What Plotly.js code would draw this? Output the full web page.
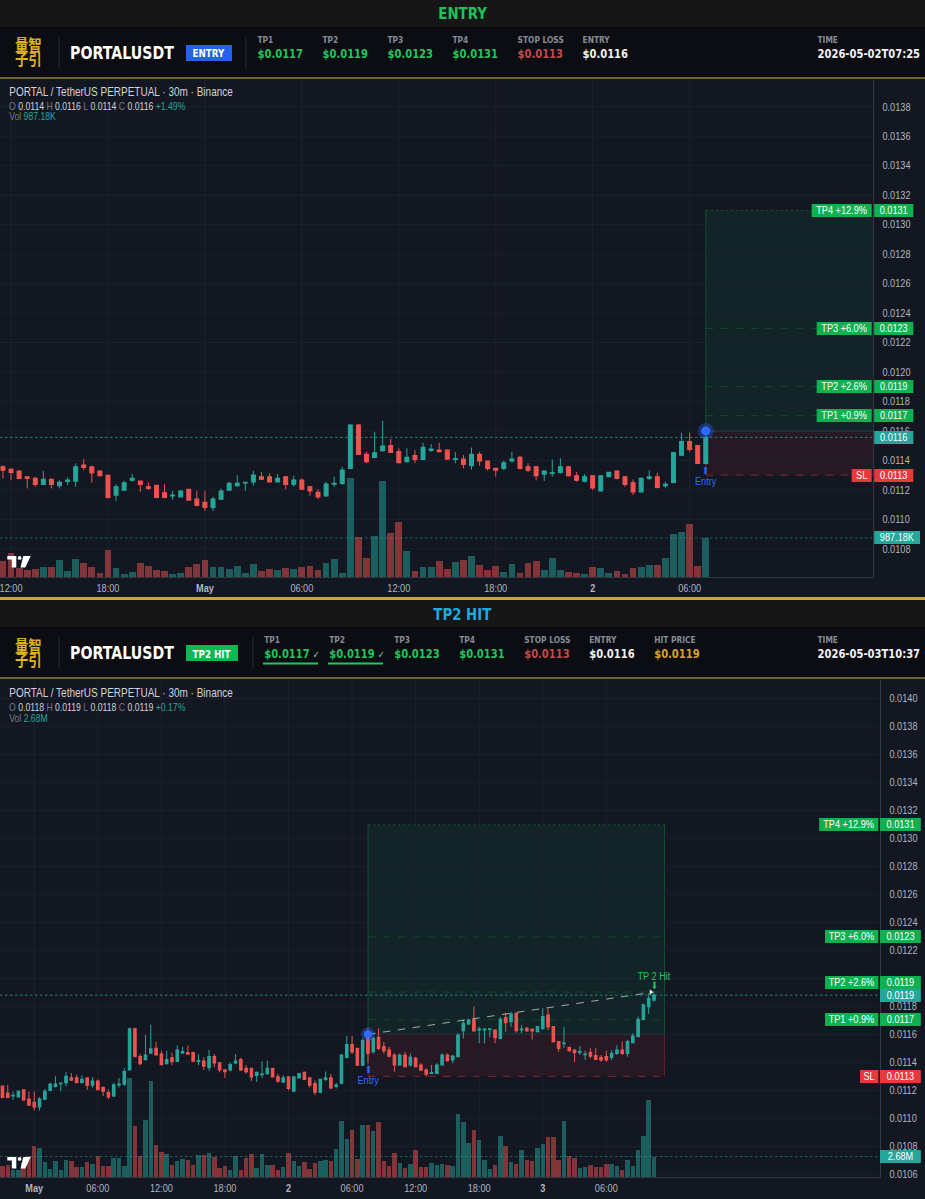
<!DOCTYPE html>
<html><head><meta charset="utf-8">
<script src="https://cdn.plot.ly/plotly-3.0.1.min.js"></script>
<style>html,body{margin:0;padding:0;background:#131722;}
#wrap{width:925px;height:1199px;overflow:hidden;}
#chart{width:1110px;height:1199px;transform:scaleX(0.833333);transform-origin:0 0;}</style>
</head><body><div id="wrap"><div id="chart"></div></div>
<script>
// ---------------- DATA ----------------
const firstBarTime = '2026-04-30T11:30:00Z'; // 30m bars
const opens = [0.011357,0.011339,0.011328,0.011289,0.011278,0.011237,0.011271,0.011228,0.011257,0.011260,
0.011368,0.011357,0.011328,0.011298,0.011165,0.011199,0.011266,0.011260,0.011221,0.011230,
0.011180,0.011160,0.011153,0.011203,0.011137,0.011115,0.011081,0.011137,0.011199,0.011228,
0.011248,0.011255,0.011289,0.011289,0.011255,0.011289,0.011237,0.011266,0.011221,0.011183,
0.011160,0.011239,0.011244,0.011346,0.011640,0.011441,0.011420,0.011466,0.011500,0.011459,
0.011391,0.011432,0.011407,0.011468,0.011470,0.011470,0.011407,0.011409,0.011364,0.011441,
0.011396,0.011346,0.011346,0.011396,0.011420,0.011357,0.011357,0.011307,0.011312,0.011319,
0.011357,0.011296,0.011260,0.011296,0.011194,0.011289,0.011328,0.011289,0.011248,0.011187,
0.011278,0.011289,0.011228,0.011251,0.011436,0.011527,0.011500,0.011380,0.011619,0.011476,
0.011578,0.011512,0.011488,0.011452,0.011381,0.011452,0.011381,0.011428,0.011381,0.011345,
0.011321,0.011321,0.011381,0.011452,0.011417,0.011440,0.011626,0.011674,0.011702,0.011631,
0.011631,0.011636,0.011631,0.011571,0.011719,0.011690,0.011750,0.011631,0.011643,0.011636,
0.011619,0.011643,0.011738,0.011655,0.011548,0.011534,0.011507,0.011488,0.011471,0.011455,
0.011469,0.011448,0.011433,0.011441,0.011436,0.011464,0.011488,0.011464,0.011541,0.011583,
0.011707,0.011798,0.011845];
const highs = [0.011368,0.011346,0.011334,0.011294,0.011289,0.011330,0.011278,0.011266,0.011285,0.011380,
0.011409,0.011362,0.011334,0.011305,0.011239,0.011262,0.011307,0.011264,0.011251,0.011235,
0.011239,0.011192,0.011199,0.011208,0.011192,0.011192,0.011153,0.011210,0.011255,0.011300,
0.011255,0.011330,0.011323,0.011312,0.011307,0.011294,0.011296,0.011278,0.011226,0.011205,
0.011255,0.011289,0.011357,0.011647,0.011647,0.011459,0.011595,0.011669,0.011545,0.011482,
0.011482,0.011470,0.011520,0.011511,0.011520,0.011475,0.011457,0.011436,0.011488,0.011459,
0.011400,0.011350,0.011398,0.011459,0.011432,0.011380,0.011362,0.011334,0.011407,0.011414,
0.011362,0.011319,0.011307,0.011300,0.011300,0.011323,0.011334,0.011294,0.011271,0.011285,
0.011334,0.011316,0.011255,0.011459,0.011588,0.011588,0.011504,0.011572,0.011643,0.011583,
0.011643,0.011547,0.011512,0.011464,0.011464,0.011476,0.011464,0.011440,0.011393,0.011357,
0.011381,0.011393,0.011464,0.011464,0.011452,0.011607,0.011702,0.011714,0.011798,0.011655,
0.011643,0.011643,0.011636,0.011726,0.011755,0.011762,0.011755,0.011667,0.011655,0.011643,
0.011660,0.011786,0.011786,0.011660,0.011552,0.011655,0.011512,0.011493,0.011517,0.011483,
0.011500,0.011500,0.011452,0.011483,0.011488,0.011524,0.011548,0.011560,0.011607,0.011726,
0.011821,0.011893,0.011893];
const lows = [0.011278,0.011266,0.011273,0.011210,0.011221,0.011233,0.011210,0.011210,0.011233,0.011221,
0.011334,0.011248,0.011294,0.011142,0.011124,0.011194,0.011255,0.011187,0.011199,0.011144,
0.011144,0.011131,0.011149,0.011126,0.011090,0.011056,0.011056,0.011131,0.011194,0.011221,
0.011194,0.011228,0.011266,0.011251,0.011251,0.011205,0.011221,0.011199,0.011160,0.011137,
0.011153,0.011221,0.011233,0.011341,0.011436,0.011380,0.011414,0.011459,0.011452,0.011384,
0.011384,0.011380,0.011402,0.011459,0.011454,0.011405,0.011380,0.011346,0.011339,0.011364,
0.011330,0.011289,0.011334,0.011386,0.011339,0.011319,0.011266,0.011260,0.011289,0.011312,
0.011291,0.011255,0.011251,0.011199,0.011187,0.011285,0.011273,0.011221,0.011165,0.011180,
0.011266,0.011210,0.011214,0.011244,0.011429,0.011459,0.011375,0.011373,0.011393,0.011464,
0.011488,0.011464,0.011435,0.011333,0.011376,0.011364,0.011369,0.011364,0.011340,0.011297,
0.011316,0.011316,0.011376,0.011405,0.011393,0.011435,0.011571,0.011667,0.011619,0.011536,
0.011536,0.011579,0.011536,0.011564,0.011619,0.011655,0.011612,0.011607,0.011619,0.011564,
0.011614,0.011631,0.011631,0.011541,0.011476,0.011500,0.011476,0.011405,0.011452,0.011417,
0.011429,0.011417,0.011405,0.011405,0.011417,0.011452,0.011452,0.011440,0.011536,0.011579,
0.011702,0.011745,0.011833];
const closes = [0.011334,0.011319,0.011278,0.011278,0.011237,0.011271,0.011237,0.011251,0.011266,0.011357,
0.011353,0.011316,0.011296,0.011149,0.011221,0.011248,0.011278,0.011237,0.011210,0.011149,
0.011149,0.011165,0.011192,0.011131,0.011094,0.011081,0.011137,0.011192,0.011244,0.011244,
0.011251,0.011300,0.011273,0.011255,0.011278,0.011237,0.011266,0.011205,0.011194,0.011153,
0.011239,0.011244,0.011334,0.011640,0.011441,0.011391,0.011452,0.011497,0.011454,0.011384,
0.011420,0.011407,0.011488,0.011477,0.011459,0.011409,0.011412,0.011373,0.011441,0.011396,
0.011346,0.011334,0.011384,0.011409,0.011346,0.011334,0.011296,0.011328,0.011316,0.011357,
0.011296,0.011266,0.011289,0.011214,0.011296,0.011319,0.011278,0.011237,0.011187,0.011278,
0.011289,0.011217,0.011237,0.011452,0.011527,0.011475,0.011380,0.011556,0.011464,0.011571,
0.011500,0.011483,0.011445,0.011381,0.011452,0.011369,0.011435,0.011369,0.011345,0.011316,
0.011326,0.011381,0.011452,0.011412,0.011445,0.011595,0.011679,0.011702,0.011624,0.011638,
0.011638,0.011640,0.011576,0.011707,0.011683,0.011745,0.011626,0.011638,0.011624,0.011624,
0.011655,0.011726,0.011655,0.011548,0.011500,0.011538,0.011483,0.011469,0.011476,0.011459,
0.011445,0.011421,0.011417,0.011417,0.011464,0.011488,0.011464,0.011548,0.011588,0.011707,
0.011810,0.011857,0.011881];
// volume (thousands), upper panel: bars 1..88
const volTopK = [405,615,236,177,194,253,261,422,152,447,
362,261,101,683,236,84,118,346,270,169,
143,76,93,253,320,430,253,253,211,270,
110,337,160,194,169,228,194,253,287,177,
354,464,110,2512,1012,472,1045,2428,1104,1399,
666,160,253,253,396,211,379,430,523,303,
177,287,135,337,101,354,413,185,489,177,
126,101,84,253,236,101,160,84,228,253,
303,303,489,1079,1138,1349,287,987.18];
// volume (thousands), lower panel: bars 20..143
const volBottomK = [1395,1526,959,872,1831,2790,4098,3793,1962,1090,
2049,959,2267,2093,1308,1264,1918,1744,2703,1395,
1395,2442,2529,1395,12949,6714,2703,7499,12513,4142,
3270,2965,1613,2093,2354,2267,1526,2834,2834,3139,
2616,1177,1395,959,2703,959,2485,3008,1177,3008,
1526,1613,959,1264,3183,2136,1395,1918,1090,1875,
2136,2180,2136,3662,7368,4970,6191,2354,6845,6802,
6060,7194,2136,1482,3139,1831,1177,1700,3575,1308,
1308,1831,1526,1657,1613,1395,8284,7150,4447,6191,
4796,2267,1046,1613,5319,4011,1918,1700,3488,2267,
2136,3793,4360,5232,5232,2180,7281,2790,2442,1177,
1264,1570,1308,1264,1744,1744,1482,872,2267,1395,
3575,5406,10028,2680];
const entryPrice = 0.0116;
const slPrice = 0.0113;
const tpPrices = [0.011704, 0.011902, 0.012296, 0.013096];
const tpNames = ['TP1','TP2','TP3','TP4'];
const tpPct = ['+0.9%','+2.6%','+6.0%','+12.9%'];
const tpText = ['0.0117','0.0119','0.0123','0.0131'];
const topPriceTicks = [0.0108,0.0110,0.0112,0.0114,0.0116,0.0118,0.0120,0.0122,0.0124,0.0126,0.0128,0.0130,0.0132,0.0134,0.0136,0.0138];
const botPriceTicks = [0.0106,0.0108,0.0110,0.0112,0.0114,0.0116,0.0118,0.0122,0.0124,0.0126,0.0128,0.0130,0.0132,0.0134,0.0136,0.0138,0.0140];
const botHiddenTick = 0.0120;
const topTickVals = ['2026-04-30 12:00','2026-04-30 18:00','2026-05-01 00:00','2026-05-01 06:00','2026-05-01 12:00','2026-05-01 18:00','2026-05-02 00:00','2026-05-02 06:00'];
const topTickText = ['12:00','18:00','<b>May</b>','06:00','12:00','18:00','<b>2</b>','06:00'];
const botTickVals = ['2026-05-01 00:00','2026-05-01 06:00','2026-05-01 12:00','2026-05-01 18:00','2026-05-02 00:00','2026-05-02 06:00','2026-05-02 12:00','2026-05-02 18:00','2026-05-03 00:00','2026-05-03 06:00'];
const botTickText = ['<b>May</b>','06:00','12:00','18:00','<b>2</b>','06:00','12:00','18:00','<b>3</b>','06:00'];
const hdrLabels = ['TP1','TP2','TP3','TP4','STOP LOSS','ENTRY','HIT PRICE'];
const hdrValues = ['$0.0117','$0.0119','$0.0123','$0.0131','$0.0113','$0.0116','$0.0119'];
const entryTimeTop = '2026-05-02 07:00';
const entryTimeBottom = '2026-05-02 07:30';
const boxEndBottom = '2026-05-03 11:30';
const hitTime = '2026-05-03 10:30';
const lastPriceTop = 0.011556, lastPriceBottom = 0.01188;
const lastVolTopK = 987.18, lastVolBottomK = 2680;

// ---------------- BUILD ----------------
const W = 925, H = 1199, SX = 1110 / 925;   // plot is drawn 1110 wide and squeezed to 925 by CSS
const X = px => px / W, Y = py => 1 - py / H;
const t0 = Date.parse(firstBarTime);
const times = opens.map((_, i) => new Date(t0 + i * 1800000).toISOString().slice(0, 16).replace('T', ' '));
const UP = '#26a69a', DN = '#ef5350';
const VUP = 'rgba(38,166,154,0.5)', VDN = 'rgba(239,83,80,0.5)';
const volColor = i => closes[i] >= opens[i] ? VUP : VDN;
const topIdx = [...Array(88).keys()];
const botIdx = [...Array(124).keys()].map(k => k + 19);
const pick = (arr, idx) => idx.map(i => arr[i]);

const candleStyle = {
  increasing: {line: {color: UP, width: 1.2}, fillcolor: UP},
  decreasing: {line: {color: DN, width: 1.2}, fillcolor: DN},
  hoverinfo: 'skip', showlegend: false
};
const traces = [
  {type: 'bar', x: pick(times, topIdx), y: volTopK, xaxis: 'x', yaxis: 'y', width: 1800000 * 0.84,
   marker: {color: topIdx.map(volColor), line: {width: 0}}, hoverinfo: 'skip', showlegend: false},
  Object.assign({type: 'candlestick', x: pick(times, topIdx), open: pick(opens, topIdx), high: pick(highs, topIdx),
   low: pick(lows, topIdx), close: pick(closes, topIdx), xaxis: 'x', yaxis: 'y2'}, candleStyle),
  {type: 'bar', x: pick(times, botIdx), y: volBottomK, xaxis: 'x2', yaxis: 'y3', width: 1800000 * 0.84,
   marker: {color: botIdx.map(volColor), line: {width: 0}}, hoverinfo: 'skip', showlegend: false},
  Object.assign({type: 'candlestick', x: pick(times, botIdx), open: pick(opens, botIdx), high: pick(highs, botIdx),
   low: pick(lows, botIdx), close: pick(closes, botIdx), xaxis: 'x2', yaxis: 'y4'}, candleStyle),
  {type: 'scatter', mode: 'lines', x: [entryTimeBottom, hitTime], y: [entryPrice, tpPrices[1]], xaxis: 'x2', yaxis: 'y4',
   line: {color: 'rgba(230,230,235,0.75)', width: 1, dash: 'dash'}, hoverinfo: 'skip', showlegend: false},
  {type: 'scatter', mode: 'markers', x: ['2026-05-03 10:12'], y: [tpPrices[1]], xaxis: 'x2', yaxis: 'y4',
   marker: {size: 5, symbol: 'triangle-right', color: '#ffffff', line: {width: 0}}, hoverinfo: 'skip', showlegend: false}
];

const GRID = '#1d2130', AXL = '#363a45', TICKC = '#b2b5be';
const LIB = 'Liberation Sans, Arial, sans-serif', DJ = 'DejaVu Sans, sans-serif';
const tickFont = {family: LIB, size: 11, color: TICKC};
const layout = {
  width: 1110, height: H, margin: {l: 0, r: 0, t: 0, b: 0},
  paper_bgcolor: '#131722', plot_bgcolor: '#131722', hovermode: false, showlegend: false, bargap: 0,
  xaxis: {domain: [0, X(873)], anchor: 'y', type: 'date', range: ['2026-04-30 11:19', '2026-05-02 17:21'],
    tickmode: 'array', tickvals: topTickVals, ticktext: topTickText, showgrid: true, gridcolor: GRID, gridwidth: 1.2,
    tickfont: tickFont, ticks: '', ticklabelstandoff: 1, ticklabeloverflow: 'allow',
    showline: true, linecolor: AXL, zeroline: false, rangeslider: {visible: false}, fixedrange: true, automargin: false},
  yaxis: {domain: [Y(577), Y(80)], anchor: 'x', range: [0, 12578], visible: false, fixedrange: true},
  yaxis2: {overlaying: 'y', anchor: 'x', side: 'right', range: [0.010609, 0.013981], tickmode: 'array', tickvals: topPriceTicks,
    tickformat: '.4f', showgrid: true, gridcolor: GRID, tickfont: tickFont, ticks: '', ticklabelstandoff: 8,
    showline: true, linecolor: AXL, linewidth: 1.2, zeroline: false, fixedrange: true, automargin: false},
  xaxis2: {domain: [0, X(880)], anchor: 'y3', type: 'date', range: ['2026-04-30 20:46', '2026-05-04 07:50'],
    tickmode: 'array', tickvals: botTickVals, ticktext: botTickText, showgrid: true, gridcolor: GRID, gridwidth: 1.2,
    tickfont: tickFont, ticks: '', ticklabelstandoff: 1, ticklabeloverflow: 'allow',
    showline: true, linecolor: AXL, zeroline: false, rangeslider: {visible: false}, fixedrange: true, automargin: false},
  yaxis3: {domain: [Y(1177), Y(680)], anchor: 'x2', range: [0, 64960], visible: false, fixedrange: true},
  yaxis4: {overlaying: 'y3', anchor: 'x2', side: 'right', range: [0.010581, 0.014131], tickmode: 'array', tickvals: botPriceTicks,
    tickformat: '.4f', showgrid: true, gridcolor: GRID, tickfont: tickFont, ticks: '', ticklabelstandoff: 8,
    showline: true, linecolor: AXL, linewidth: 1.2, zeroline: false, fixedrange: true, automargin: false},
  shapes: [], annotations: []
};
const S = layout.shapes, A = layout.annotations;
const rect = (x0, y0, x1, y1, fill, layer) => S.push({type: 'rect', xref: 'paper', yref: 'paper', x0: X(x0), x1: X(x1), y0: Y(y1), y1: Y(y0), fillcolor: fill, line: {width: 0}, layer: layer || 'below'});
const seg = (x0, y0, x1, y1, color, width, dash) => S.push({type: 'line', xref: 'paper', yref: 'paper', x0: X(x0), y0: Y(y0), x1: X(x1), y1: Y(y1), line: {color: color, width: width, dash: dash || 'solid'}});
const txt = (text, x, y, font, extra) => A.push(Object.assign({text: text, xref: 'paper', yref: 'paper', x: X(x), y: Y(y), showarrow: false, xanchor: 'left', yanchor: 'middle', borderpad: 0, font: font}, extra || {}));
const path = (pts, fill) => S.push({type: 'path', xref: 'paper', yref: 'paper', path: 'M' + pts.map(p => X(p[0]) + ',' + Y(p[1])).join(' L') + ' Z', fillcolor: fill, line: {width: 0}, layer: 'above'});

function header(y0, title, titleColor, badge, badgeColor, badgeW, divX, valXs, nVals, timeText, checks) {
  rect(0, y0, W, y0 + 27, '#161616');
  rect(0, y0 + 27, W, y0 + 77, '#0b0d13');
  rect(0, y0 + 77, W, y0 + 79, '#6f6233');
  txt('<b>' + title + '</b>', W / 2, y0 + 14, {family: DJ, size: 16, color: titleColor}, {xanchor: 'center'});
  txt('<b>量智</b>', 28, y0 + 44.5, {family: 'Noto Sans CJK SC', size: 16, color: '#e0b31a'}, {xanchor: 'center'});
  txt('<b>子引</b>', 28, y0 + 58.5, {family: 'Noto Sans CJK SC', size: 16, color: '#e0b31a'}, {xanchor: 'center'});
  seg(59, y0 + 37, 59, y0 + 69, '#262a33', 1.2);
  txt('<b>PORTALUSDT</b>', 69, y0 + 53, {family: DJ, size: 17, color: '#ffffff'});
  rect(186, y0 + 45, 186 + badgeW, y0 + 61, badgeColor, 'above');
  txt('<b>' + badge + '</b>', 186 + badgeW / 2, y0 + 53.5, {family: DJ, size: 10.5, color: '#ffffff'}, {xanchor: 'center'});
  seg(divX, y0 + 37, divX, y0 + 69, '#262a33', 1.2);
  const valColors = ['#22c55e', '#22c55e', '#22c55e', '#22c55e', '#c24b4b', '#f2f2f2', '#d9a520'];
  for (let i = 0; i < nVals; i++) {
    txt('<b>' + hdrLabels[i] + '</b>', valXs[i], y0 + 40, {family: DJ, size: 9, color: '#868b97'});
    let v = '<b>' + hdrValues[i] + '</b>';
    if (checks && i < checks) {
      v += ' <span style="font-size:10px;color:#8fcfa4">✓</span>';
      seg(valXs[i], y0 + 63.5, valXs[i] + 55, y0 + 63.5, '#22c55e', 2);
    }
    txt(v, valXs[i], y0 + 54, {family: DJ, size: 12, color: valColors[i]});
  }
  txt('<b>TIME</b>', 817, y0 + 40, {family: DJ, size: 9, color: '#868b97'});
  txt('<b>' + timeText + '</b>', 817, y0 + 54, {family: DJ, size: 12, color: '#f2f2f2'});
}
header(0, 'ENTRY', '#1ec25c', 'ENTRY', '#2563eb', 46, 246, [257, 322, 387, 452, 517, 582], 6, '2026-05-02T07:25', 0);
header(600, 'TP2 HIT', '#1fa9e3', 'TP2 HIT', '#10b652', 52, 253, [263, 328, 393, 458, 523, 588, 653], 7, '2026-05-03T10:37', 2);
rect(0, 597, W, 600, '#c9a44a', 'above');

function legend(y0, ohlc, pct, vol) {
  txt('PORTAL / TetherUS PERPETUAL · 30m · Binance', 8.5, y0, {family: LIB, size: 12, color: '#d1d4dc'});
  const g = s => '<span style="color:#787b86">' + s + '</span>';
  txt(g('O') + ' ' + ohlc[0] + ' ' + g('H') + ' ' + ohlc[1] + ' ' + g('L') + ' ' + ohlc[2] + ' ' + g('C') + ' ' + ohlc[3] +
      ' <span style="color:#26a69a">' + pct + '</span>', 8.5, y0 + 14, {family: LIB, size: 10.4, color: '#d1d4dc'});
  txt(g('Vol') + ' <span style="color:#26a69a">' + vol + '</span>', 8.5, y0 + 25, {family: LIB, size: 10.4, color: '#d1d4dc'});
}
legend(92, ['0.0114', '0.0116', '0.0114', '0.0116'], '+1.49%', '987.18K');
legend(693, ['0.0118', '0.0119', '0.0118', '0.0119'], '+0.17%', '2.68M');

function tvLogo(ox, oy) {
  path([[ox, oy], [ox + 9, oy], [ox + 9, oy + 11.5], [ox + 4.5, oy + 11.5], [ox + 4.5, oy + 3.6], [ox, oy + 3.6]], '#ffffff');
  S.push({type: 'circle', xref: 'paper', yref: 'paper', x0: X(ox + 10.4), x1: X(ox + 14.2), y0: Y(oy + 3.8), y1: Y(oy), fillcolor: '#ffffff', line: {width: 0}, layer: 'above'});
  path([[ox + 16, oy], [ox + 23.4, oy], [ox + 18, oy + 11.5], [ox + 13.2, oy + 11.5]], '#ffffff');
}
tvLogo(7.3, 556);
tvLogo(7.3, 1157);

// grid line for the bottom tick whose label is hidden behind the TP2 tag
S.push({type: 'line', xref: 'paper', yref: 'y4', x0: 0, x1: X(880), y0: botHiddenTick, y1: botHiddenTick, line: {color: GRID, width: 1}, layer: 'below'});

// position boxes and levels
function posBox(xr, yr, x0, x1, withRight) {
  S.push({type: 'rect', xref: xr, yref: yr, x0: x0, x1: x1, y0: entryPrice, y1: tpPrices[3], fillcolor: 'rgba(10,160,90,0.10)', line: {width: 0}, layer: 'below'});
  S.push({type: 'rect', xref: xr, yref: yr, x0: x0, x1: x1, y0: slPrice, y1: entryPrice, fillcolor: 'rgba(242,54,69,0.09)', line: {width: 0}, layer: 'below'});
  const L = (xa, ya, xb, yb, c, d, w) => S.push({type: 'line', xref: xr, yref: yr, x0: xa, y0: ya, x1: xb, y1: yb, line: {color: c, width: w || 1, dash: d || 'solid'}, layer: 'below'});
  L(x0, tpPrices[3], x1, tpPrices[3], 'rgba(34,197,94,0.35)', 'dot');
  for (let i = 0; i < 3; i++) L(x0, tpPrices[i], x1, tpPrices[i], 'rgba(34,197,94,0.25)', 'dash');
  L(x0, entryPrice, x1, entryPrice, 'rgba(150,155,165,0.45)');
  L(x0, slPrice, x1, slPrice, 'rgba(242,54,69,0.55)', 'dash');
  L(x0, slPrice, x0, entryPrice, 'rgba(242,54,69,0.35)', 'solid', 1.2);
  L(x0, entryPrice, x0, tpPrices[3], 'rgba(34,197,94,0.30)', 'solid', 1.2);
  if (withRight) {
    L(x1, slPrice, x1, entryPrice, 'rgba(242,54,69,0.35)', 'solid', 1.2);
    L(x1, entryPrice, x1, tpPrices[3], 'rgba(34,197,94,0.30)', 'solid', 1.2);
  }
}
posBox('x', 'y2', entryTimeTop, '2026-05-02 17:21', false);
posBox('x2', 'y4', entryTimeBottom, boxEndBottom, true);

// entry dots (pixel-sized circles, widened to stay round after the squeeze)
function dot(xr, yr, xv, yv, r, color) {
  S.push({type: 'circle', xref: xr, yref: yr, xsizemode: 'pixel', ysizemode: 'pixel', xanchor: xv, yanchor: yv,
    x0: -r * SX, x1: r * SX, y0: -r, y1: r, fillcolor: color, line: {width: 0}, layer: 'above'});
}
dot('x', 'y2', entryTimeTop, entryPrice, 8, 'rgba(41,98,255,0.35)');
dot('x', 'y2', entryTimeTop, entryPrice, 4.5, '#2f6bff');
dot('x2', 'y4', entryTimeBottom, entryPrice, 7, 'rgba(41,98,255,0.35)');
dot('x2', 'y4', entryTimeBottom, entryPrice, 4, '#2f6bff');

const hline = (xEnd, yr, v, c) => S.push({type: 'line', xref: 'paper', yref: yr, x0: 0, x1: X(xEnd), y0: v, y1: v, line: {color: c, width: 1, dash: 'dot'}, layer: 'above'});
hline(873, 'y2', lastPriceTop, 'rgba(38,166,154,0.85)');
hline(873, 'y', lastVolTopK, 'rgba(38,166,154,0.6)');
hline(880, 'y4', lastPriceBottom, 'rgba(38,166,154,0.85)');
hline(880, 'y3', lastVolBottomK, 'rgba(38,166,154,0.6)');

// right-hand labels
const lblFont = {family: LIB, size: 11, color: '#ffffff'};
const tag = (text, xLeft, w, yr, v, bg, ysh) => A.push({text: text, xref: 'paper', yref: yr, x: X(xLeft), y: v, xanchor: 'left', yanchor: 'middle',
  showarrow: false, width: w * SX, height: 13, borderpad: 0, borderwidth: 0, bgcolor: bg, align: 'center', font: lblFont, yshift: ysh || 0});
const GREEN = '#0fb04f', RED = '#e5393b', TEAL = '#26a69a';
const topTagW = [55, 55, 55, 60], botTagW = [53, 53, 53, 59];
for (let i = 0; i < 4; i++) {
  tag(tpNames[i] + ' ' + tpPct[i], 872 - topTagW[i], topTagW[i], 'y2', tpPrices[i], GREEN);
  tag(tpText[i], 874, 39, 'y2', tpPrices[i], GREEN);
  const ysh = i === 1 ? 10 : 0;
  tag(tpNames[i] + ' ' + tpPct[i], 878 - botTagW[i], botTagW[i], 'y4', tpPrices[i], GREEN, ysh);
  tag(tpText[i], 880, 41, 'y4', tpPrices[i], GREEN, ysh);
}
tag('SL', 852, 20, 'y2', slPrice, RED);
tag('0.0113', 874, 39, 'y2', slPrice, RED);
tag('SL', 860, 18, 'y4', slPrice, RED);
tag('0.0113', 880, 41, 'y4', slPrice, RED);
tag('0.0116', 874, 39, 'y2', lastPriceTop, TEAL);
tag('987.18K', 874, 46, 'y', lastVolTopK, TEAL);
tag('0.0119', 880, 41, 'y4', lastPriceBottom, TEAL);
tag('2.68M', 880, 41, 'y3', lastVolBottomK, TEAL);

// entry / hit markers text
const mk = (text, xr, yr, x, y, ysh, color, size) => A.push({text: text, xref: xr, yref: yr, x: x, y: y, yshift: ysh, showarrow: false,
  xanchor: 'center', yanchor: 'middle', borderpad: 0, font: {family: LIB, size: size, color: color}});
mk('⬆', 'x', 'y2', entryTimeTop, lows[87], -6, '#2f6bff', 10);
mk('Entry', 'x', 'y2', entryTimeTop, lows[87], -17, '#2f6bff', 11);
mk('⬆', 'x2', 'y4', entryTimeBottom, lows[88], -6, '#2f6bff', 10);
mk('Entry', 'x2', 'y4', entryTimeBottom, lows[88], -17, '#2f6bff', 11);
mk('⬇', 'x2', 'y4', hitTime, tpPrices[1], 7, '#22c55e', 10);
mk('TP 2 Hit', 'x2', 'y4', hitTime, tpPrices[1], 16, '#22c55e', 11);

Plotly.newPlot('chart', traces, layout, {displayModeBar: false, staticPlot: true});
</script></body></html>
